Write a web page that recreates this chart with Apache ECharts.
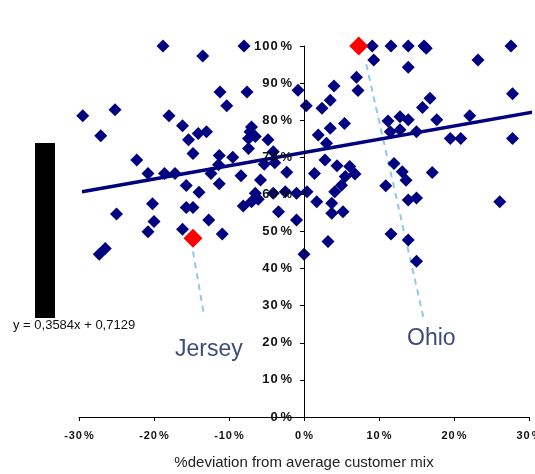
<!DOCTYPE html>
<html>
<head>
<meta charset="utf-8">
<script src="https://cdn.jsdelivr.net/npm/echarts@6/dist/echarts.min.js"></script>
<style>
  html, body { margin: 0; padding: 0; background: #fff; }
  #chart { width: 535px; height: 474px; }
</style>
</head>
<body>
<div id="chart"></div>
<script>
// values in % : [deviation from average mix, y value]
const storePoints = [
  [-29.5, 81.2], [-27.1, 75.8], [-25.2, 82.8], [-25.0, 54.7], [-26.5, 45.4], [-27.3, 43.9],
  [-22.3, 69.3], [-20.8, 65.6], [-20.2, 57.5], [-20.0, 52.7], [-20.8, 49.9], [-18.8, 100],
  [-18.6, 65.6], [-18.0, 81.2], [-17.2, 65.6], [-16.2, 78.5], [-15.7, 62.4], [-15.7, 56.5],
  [-14.8, 56.5], [-16.2, 50.6], [-15.4, 74.7], [-14.8, 71.0], [-14.1, 76.4], [-13.0, 76.9],
  [-13.5, 97.3], [-14.0, 60.6], [-12.7, 53.1], [-12.4, 65.6], [-11.3, 70.5], [-11.4, 68.0],
  [-11.3, 62.9], [-10.9, 49.3], [-11.2, 87.6], [-10.3, 83.9], [-9.5, 70.0], [-8.4, 65.0],
  [-8.0, 100], [-7.6, 87.6], [-7.4, 72.4], [-7.0, 78.2], [-7.2, 76.9], [-6.5, 75.6],
  [-7.4, 75.1], [-4.8, 74.7], [-5.8, 63.9], [-5.3, 68.1], [-3.9, 68.5], [-4.1, 71.5],
  [-2.3, 66.0], [-4.1, 60.3], [-3.4, 55.3], [-2.5, 60.7], [-1.0, 60.3], [-1.0, 53.1],
  [-0.8, 88.1], [-8.1, 56.9], [-7.0, 58.0], [-6.1, 58.7], [-6.5, 60.3],
  [0.3, 83.9], [0.4, 60.7], [1.4, 65.6], [1.7, 58.0], [0.0, 43.9], [2.4, 83.2],
  [3.5, 85.4], [4.0, 89.2], [1.9, 76.0], [3.5, 77.8], [5.4, 79.1], [3.0, 73.8],
  [2.8, 69.3], [4.4, 67.7], [6.1, 67.5], [6.8, 65.5], [5.5, 64.8], [5.0, 62.5],
  [4.1, 60.7], [3.7, 57.6], [3.7, 54.9], [5.2, 55.3], [3.2, 47.3], [7.0, 91.6],
  [7.2, 88.0], [9.1, 100], [9.3, 96.2], [11.6, 100], [13.9, 100], [16.0, 100],
  [16.3, 99.4], [27.6, 100], [13.9, 94.3], [23.2, 96.2], [27.8, 87.1], [16.8, 85.9],
  [15.8, 83.4], [11.2, 79.8], [12.8, 80.9], [13.9, 80.1], [11.5, 76.9], [12.8, 77.4],
  [15.0, 76.9], [17.7, 80.1], [22.1, 81.2], [19.5, 75.1], [20.9, 75.1], [27.8, 75.1],
  [12.0, 68.3], [13.1, 66.1], [13.6, 63.8], [10.9, 62.3], [17.1, 65.9], [13.9, 58.5],
  [15.0, 59.0], [26.1, 58.0], [11.6, 49.3], [13.9, 47.7], [15.0, 42.0]
];
const highlighted = [[-14.8, 48.2], [7.3, 100]];   // Jersey, Ohio
const trendLine = [[-29.6, 60.7], [30.8, 82.3]];   // y = 0,3584x + 0,7129
const jerseyLeader = [[-14.8, 44.6], [-13.3, 27.0]];
const ohioLeader = [[8.3, 95.1], [15.9, 27.0]];
const xTicks = [-30, -20, -10, 0, 10, 20, 30];
const yTicks = [0, 10, 20, 30, 40, 50, 60, 70, 80, 90, 100];

const chart = echarts.init(document.getElementById('chart'));
const navy = '#000080';
const leaderStyle = { color: '#8ecae6', width: 2, type: [6, 5] };

// the original tick labels are spaced out a little
function spacedPct(v) {
  return String(v).split('').join('\u200A') + '\u2009%';
}

chart.setOption({
  animation: false,
  grid: { left: 79, right: 6, top: 46, bottom: 57, outerBoundsMode: 'none' },
  xAxis: {
    type: 'value', min: xTicks[0], max: xTicks[xTicks.length - 1], interval: 10,
    splitLine: { show: false },
    axisLine: { lineStyle: { color: '#000', width: 1 } },
    axisTick: { length: 4, lineStyle: { color: '#000' } },
    axisLabel: {
      formatter: spacedPct, margin: 13, fontFamily: 'Liberation Sans', fontWeight: 'bold',
      fontSize: 11, color: '#111'
    },
    name: '%deviation from average customer mix', nameLocation: 'middle', nameGap: 38,
    nameTextStyle: { fontFamily: 'Liberation Sans', fontSize: 15, color: '#222' }
  },
  yAxis: {
    type: 'value', min: yTicks[0], max: yTicks[yTicks.length - 1], interval: 10,
    z: 5,
    position: 'left',
    offset: -225,   // put the axis on x = 0
    splitLine: { show: false },
    axisLine: { onZero: false, lineStyle: { color: '#000', width: 1 } },
    axisTick: { length: 4, lineStyle: { color: '#000' } },
    axisLabel: {
      formatter: spacedPct, margin: 12, fontFamily: 'Liberation Sans', fontWeight: 'bold',
      fontSize: 13, color: '#111'
    }
  },
  series: [
    {
      type: 'scatter', data: storePoints, symbol: 'diamond', symbolSize: 13,
      itemStyle: { color: navy, opacity: 1 }, z: 2
    },
    {
      type: 'line', data: trendLine, showSymbol: false, clip: false,
      lineStyle: { color: navy, width: 3.5 }, z: 3, silent: true
    },
    {
      type: 'line', data: jerseyLeader, showSymbol: false, lineStyle: leaderStyle, z: 1
    },
    {
      type: 'line', data: ohioLeader, showSymbol: false, lineStyle: leaderStyle, z: 1
    },
    {
      type: 'scatter', data: highlighted, symbol: 'diamond', symbolSize: 19,
      itemStyle: { color: '#ff0000', opacity: 1 }, z: 4
    }
  ],
  graphic: [
    { type: 'rect', left: 35, top: 143, shape: { width: 20, height: 175 }, style: { fill: '#000' } },
    {
      type: 'text', left: 13, top: 319,
      style: { text: 'y = 0,3584x + 0,7129', font: '13px "Liberation Sans"', fill: '#111' }
    },
    {
      type: 'text', left: 175, top: 338,
      style: { text: 'Jersey', font: '23px "Liberation Sans"', fill: '#3d4c7c' }
    },
    {
      type: 'text', left: 407, top: 327,
      style: { text: 'Ohio', font: '23px "Liberation Sans"', fill: '#3d4c7c' }
    }
  ]
});
</script>
</body>
</html>
